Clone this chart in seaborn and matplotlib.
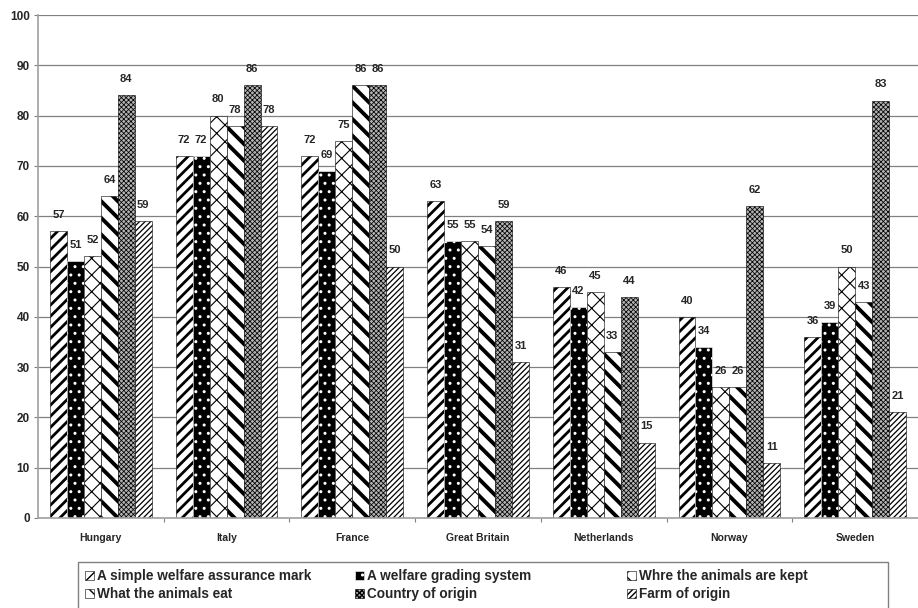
import numpy as np
import pandas as pd
import matplotlib
matplotlib.use("Agg")
import matplotlib.pyplot as plt
from matplotlib.patches import Patch, Rectangle
import seaborn as sns

countries = ["Hungary", "Italy", "France", "Great Britain", "Netherlands", "Norway", "Sweden"]
series = ["A simple welfare assurance mark", "A welfare grading system", "Whre the animals are kept",
          "What the animals eat", "Country of origin", "Farm of origin"]
simple_mark = [57, 72, 72, 63, 46, 40, 36]
grading_system = [51, 72, 69, 55, 42, 34, 39]
where_kept = [52, 80, 75, 55, 45, 26, 50]
what_eat = [64, 78, 86, 54, 33, 26, 43]
country_origin = [84, 86, 86, 59, 44, 62, 83]
farm_origin = [59, 78, 50, 31, 15, 11, 21]
y_ticks = [0, 10, 20, 30, 40, 50, 60, 70, 80, 90, 100]

values = [simple_mark, grading_system, where_kept, what_eat, country_origin, farm_origin]
df = pd.DataFrame({
    "country": np.repeat(countries, len(series)).tolist(),
    "series": series * len(countries),
    "value": [values[s][c] for c in range(len(countries)) for s in range(len(series))],
})

sns.set_style("white")
plt.rcParams["font.family"] = ["Liberation Sans", "DejaVu Sans"]
plt.rcParams["font.weight"] = "bold"

W, H = 918, 608
fig = plt.figure(figsize=(W / 100, H / 100), dpi=100)
ax = fig.add_axes([38 / W, 1 - 518 / H, 1 - 38 / W, (518 - 15) / H])

sns.barplot(data=df, x="country", y="value", hue="series", order=countries, hue_order=series,
            width=0.81, gap=0, ax=ax, legend=False, errorbar=None, saturation=1)

# fill / hatch style per series: (face, hatch colour, hatch, hatch width)
styles = [
    ("white", "black", "///", 2.0),
    ("black", "white", "..", 1.0),
    ("white", "black", "xx", 0.8),
    ("white", "black", "\\\\", 2.8),
    ("#b4b4b4", "black", "xxxxxxx", 0.55),
    ("white", "black", "//////", 0.9),
]
for cont, (fc, hc, hatch, hlw) in zip(ax.containers, styles):
    for bar in cont:
        bar.set_facecolor(fc)
        bar.set_edgecolor(hc)
        bar.set_hatch(hatch)
        bar.set_linewidth(0.4)
        try:
            bar.set_hatch_linewidth(hlw)
        except AttributeError:
            pass
    ax.bar_label(cont, fmt="%d", padding=8, fontsize=8, fontweight="bold")

ax.set_ylim(0, 100)
ax.set_xlim(-0.5, len(countries) - 0.5)
ax.set_yticks(y_ticks)
ax.set_yticklabels([str(t) for t in y_ticks], fontsize=8.5, fontweight="bold")
ax.set_xticks(range(len(countries)))
ax.set_xticklabels(countries, fontsize=7.5, fontweight="bold")
ax.tick_params(axis="x", length=0, pad=11)
ax.tick_params(axis="y", length=3, width=0.8, color="#808080", pad=3, left=True, direction="out")
ax.set_xticks(np.arange(0.5, len(countries) - 0.5, 1), minor=True)
ax.tick_params(axis="x", which="minor", length=3, width=0.8, color="#808080", bottom=True, direction="out")
ax.set_xlabel("")
ax.set_ylabel("")
ax.yaxis.grid(True, color="#808080", linewidth=0.9)
ax.set_axisbelow(True)
for side in ["top", "right"]:
    ax.spines[side].set_visible(False)
for side in ["left", "bottom"]:
    ax.spines[side].set_color("#a0a0a0")
    ax.spines[side].set_linewidth(1.2)

# legend: three columns of two entries inside one shared frame
handles = [Patch(facecolor=fc, edgecolor=hc, hatch=hatch, linewidth=0.4)
           for (fc, hc, hatch, hlw) in styles]
frame = Rectangle((78 / W, -0.05), (888 - 78) / W, 0.05 + (H - 562) / H,
                  transform=fig.transFigure, facecolor="white", edgecolor="#808080",
                  linewidth=1.0, zorder=0)
fig.patches.append(frame)
col_x = [85, 355, 627]
for col, x in enumerate(col_x):
    idx = [col, col + 3]
    fig.legend([handles[i] for i in idx], [series[i] for i in idx], ncol=1,
               loc="upper left", bbox_to_anchor=(x / W, 1 - 569 / H), frameon=False,
               handlelength=0.65, handleheight=0.65, handletextpad=0.25,
               labelspacing=0.3, borderpad=0, borderaxespad=0,
               prop={"size": 9.8, "weight": "bold"})

fig.savefig("out.png", dpi=100)
